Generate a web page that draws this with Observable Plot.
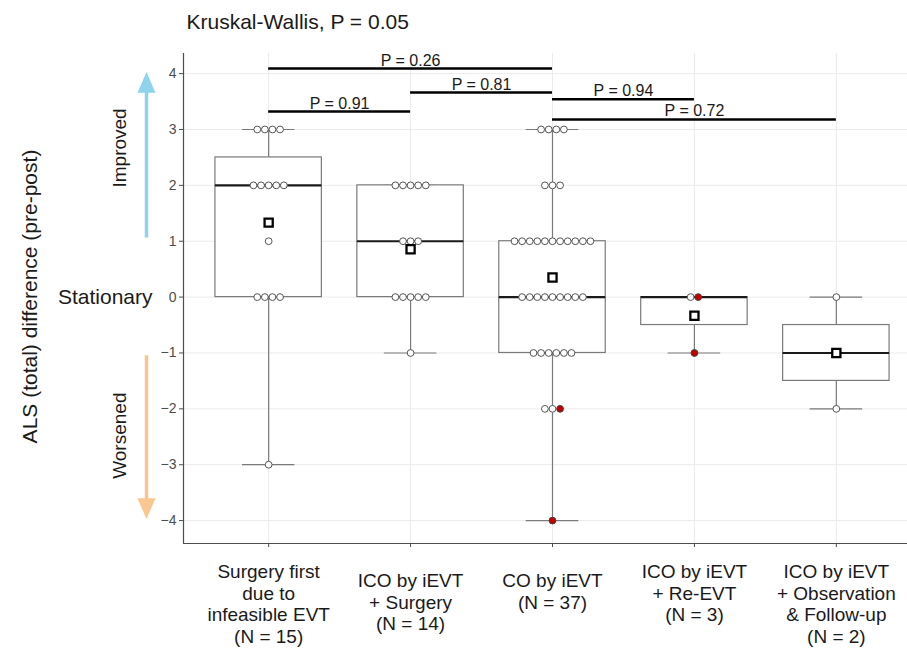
<!DOCTYPE html>
<html>
<head>
<meta charset="utf-8">
<script src="https://cdn.jsdelivr.net/npm/d3@7"></script>
<script src="https://cdn.jsdelivr.net/npm/@observablehq/plot@0.6"></script>
<style>
  html, body { margin: 0; padding: 0; background: #fff; overflow: hidden; }
  #chart svg { display: block; overflow: hidden; }
</style>
</head>
<body>
<div id="chart"></div>
<script>
// ---------- data ----------
const groupLabels = [
  "Surgery first\ndue to\ninfeasible EVT\n(N = 15)",
  "ICO by iEVT\n+ Surgery\n(N = 14)",
  "CO by iEVT\n(N = 37)",
  "ICO by iEVT\n+ Re-EVT\n(N = 3)",
  "ICO by iEVT\n+ Observation\n& Follow-up\n(N = 2)"
];
const surgeryFirstValues = [3,3,3,3,2,2,2,2,2,1,0,0,0,0,-3];
const icoSurgeryValues = [2,2,2,2,2,1,1,1,0,0,0,0,0,-1];
const coValues = [3,3,3,3,2,2,2,1,1,1,1,1,1,1,1,1,1,1,0,0,0,0,0,0,0,0,0,-1,-1,-1,-1,-1,-1,-2,-2,-2,-4];
const icoReEvtValues = [0,0,-1];
const icoObservationValues = [0,-2];
// values drawn as red (highlighted) points, per group
const highlightedValues = [[], [], [-2,-4], [0,-1], []];

const yTicks = [-4,-3,-2,-1,0,1,2,3,4];
const groupTicks = [1,2,3,4,5];

const bracketFrom = [1, 2, 1, 3, 3];
const bracketTo   = [2, 3, 3, 4, 5];
const bracketY    = [3.32, 3.66, 4.09, 3.54, 3.18];
const bracketText = ["P = 0.91", "P = 0.81", "P = 0.26", "P = 0.94", "P = 0.72"];

const titleText = "Kruskal-Wallis, P = 0.05";
const yTitle = "ALS (total) difference (pre-post)";
const directionText = ["Improved", "Stationary", "Worsened"];
const directionY = [2.67, 0, -2.48];
const arrowFrom = [1.06, -1.05];
const arrowTo = [4.03, -3.97];

// ---------- derived ----------
const groupValues = [surgeryFirstValues, icoSurgeryValues, coValues, icoReEvtValues, icoObservationValues];
const xDomain = [0.4, 5.6];
const yDomain = [-4.41, 4.36];
const boxHalf = 0.375, capHalf = 0.185, binStep = 0.0535;

const boxes = groupValues.map((vals, i) => {
  const s = vals.slice().sort(d3.ascending);
  const q1 = d3.quantile(s, 0.25), med = d3.quantile(s, 0.5), q3 = d3.quantile(s, 0.75);
  const iqr = q3 - q1;
  const lo = d3.min(s.filter(v => v >= q1 - 1.5 * iqr));
  const hi = d3.max(s.filter(v => v <= q3 + 1.5 * iqr));
  return {g: i + 1, q1, med, q3, lo, hi, mean: d3.mean(s)};
});

const dots = [];
groupValues.forEach((vals, i) => {
  const counts = d3.rollup(vals, v => v.length, v => v);
  for (const [v, n] of counts) {
    const nRed = highlightedValues[i].filter(r => r === v).length;
    for (let k = 0; k < n; k++) {
      dots.push({g: i + 1, x: i + 1 + (k - (n - 1) / 2) * binStep, y: v, red: k >= n - nRed});
    }
  }
});

const brackets = bracketFrom.map((f, i) => ({from: f, to: bracketTo[i], y: bracketY[i], label: bracketText[i]}));
const directions = directionText.map((t, i) => ({label: t, y: directionY[i]}));

const arrowUp = {draw(ctx, size) { const r = Math.sqrt(size / Math.PI); ctx.moveTo(0, 0); ctx.lineTo(-r, 2.3 * r); ctx.lineTo(r, 2.3 * r); ctx.closePath(); }};
const arrowDown = {draw(ctx, size) { const r = Math.sqrt(size / Math.PI); ctx.moveTo(0, 0); ctx.lineTo(-r, -2.3 * r); ctx.lineTo(r, -2.3 * r); ctx.closePath(); }};

const leftX = () => xDomain[0];
const boxStroke = "#7a7a7a";

const chart = Plot.plot({
  width: 907,
  height: 650,
  marginLeft: 183,
  marginRight: 0,
  marginTop: 53,
  marginBottom: 107,
  x: {domain: xDomain, range: [183, 921]},
  y: {domain: yDomain, range: [543, 53]},
  style: {fontFamily: "'Liberation Sans', Arial, sans-serif", background: "#fff", color: "#1a1a1a"},
  marks: [
    Plot.gridY(yTicks, {stroke: "#ebebeb", strokeOpacity: 1}),
    Plot.gridX(groupTicks, {stroke: "#ebebeb", strokeOpacity: 1}),
    // whiskers and caps
    Plot.ruleX(boxes, {x: "g", y1: "lo", y2: "hi", stroke: boxStroke, strokeWidth: 1.2}),
    Plot.ruleY(boxes, {y: "lo", x1: d => d.g - capHalf, x2: d => d.g + capHalf, stroke: boxStroke, strokeWidth: 1.2}),
    Plot.ruleY(boxes, {y: "hi", x1: d => d.g - capHalf, x2: d => d.g + capHalf, stroke: boxStroke, strokeWidth: 1.2}),
    // boxes
    Plot.rect(boxes, {x1: d => d.g - boxHalf, x2: d => d.g + boxHalf, y1: "q1", y2: "q3", fill: "white", stroke: boxStroke, strokeWidth: 1.2}),
    Plot.ruleY(boxes, {y: "med", x1: d => d.g - boxHalf, x2: d => d.g + boxHalf, stroke: "#1a1a1a", strokeWidth: 2.2}),
    // points
    Plot.dot(dots.filter(d => !d.red), {x: "x", y: "y", r: 3.4, fill: "white", stroke: "#555", strokeWidth: 1}),
    Plot.dot(dots.filter(d => d.red), {x: "x", y: "y", r: 3.4, fill: "#c00000", stroke: "#444", strokeWidth: 1}),
    // means
    Plot.dot(boxes, {x: "g", y: "mean", symbol: "square", r: 4.6, fill: "white", stroke: "black", strokeWidth: 2.3}),
    // significance brackets
    Plot.ruleY(brackets, {x1: "from", x2: "to", y: "y", stroke: "black", strokeWidth: 2.5}),
    Plot.text(brackets, {x: d => (d.from + d.to) / 2, y: "y", text: "label", lineAnchor: "bottom", dy: -3, fontSize: 16, fill: "#1a1a1a"}),
    // axis lines
    Plot.ruleX([xDomain[0]], {stroke: "#4d4d4d", strokeWidth: 1.2}),
    Plot.ruleY([yDomain[0]], {stroke: "#4d4d4d", strokeWidth: 1.2}),
    // axes
    Plot.axisY(yTicks, {tickFormat: d3.format("d"), tickSize: 4, tickPadding: 3, fontSize: 14, stroke: "#4d4d4d", fill: "#4d4d4d", label: null}),
    Plot.axisX([1, 4, 5], {tickFormat: d => groupLabels[d - 1], tickSize: 4, tickPadding: 15, fontSize: 19, lineHeight: 1.14, stroke: "#4d4d4d", fill: "#1a1a1a", label: null}),
    Plot.axisX([2, 3], {tickFormat: d => groupLabels[d - 1], tickSize: 4, tickPadding: 24, fontSize: 19, lineHeight: 1.14, stroke: "#4d4d4d", fill: "#1a1a1a", label: null}),
    // title
    Plot.text([titleText], {frameAnchor: "top-left", text: d => d, textAnchor: "start", lineAnchor: "bottom", dx: 3, dy: -25, fontSize: 21, fill: "#1a1a1a"}),
    // y title
    Plot.text([yTitle], {frameAnchor: "left", text: d => d, textAnchor: "middle", rotate: -90, dx: -153, dy: -2, fontSize: 21, fill: "#1a1a1a"}),
    // direction annotations
    Plot.text(directions.filter(d => d.label !== "Stationary"), {frameAnchor: "left", y: "y", text: "label", textAnchor: "middle", rotate: -90, dx: -64, fontSize: 19, fill: "#1a1a1a"}),
    Plot.text(directions.filter(d => d.label === "Stationary"), {frameAnchor: "left", y: "y", text: "label", textAnchor: "end", dx: -31, fontSize: 21, fill: "#1a1a1a"}),
    Plot.ruleX([0], {x: leftX, y1: () => arrowFrom[0], y2: () => arrowTo[0] - 0.1, dx: -37, stroke: "#8fd3ec", strokeWidth: 3.5}),
    Plot.ruleX([0], {x: leftX, y1: () => arrowFrom[1], y2: () => arrowTo[1] + 0.1, dx: -37, stroke: "#f9c690", strokeWidth: 3.5}),
    Plot.dot([0], {x: leftX, y: () => arrowTo[0], dx: -37, symbol: arrowUp, r: 9, fill: "#8fd3ec"}),
    Plot.dot([0], {x: leftX, y: () => arrowTo[1], dx: -37, symbol: arrowDown, r: 9, fill: "#f9c690"})
  ]
});
document.getElementById("chart").appendChild(chart);
</script>
</body>
</html>
